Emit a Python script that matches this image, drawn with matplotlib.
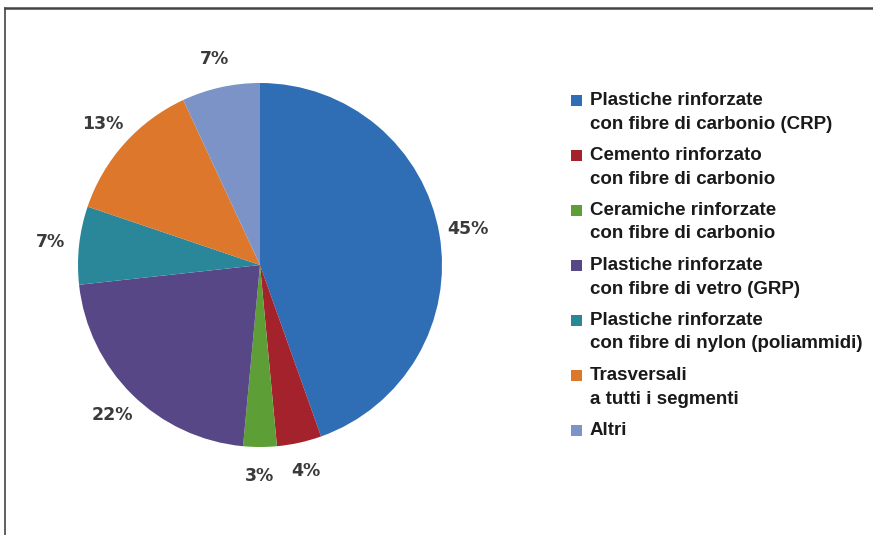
import matplotlib
matplotlib.use("Agg")
import matplotlib.pyplot as plt
from matplotlib.patches import Rectangle
from matplotlib.lines import Line2D

# dati
categorie = [
    "Plastiche rinforzate\ncon fibre di carbonio (CRP)",
    "Cemento rinforzato\ncon fibre di carbonio",
    "Ceramiche rinforzate\ncon fibre di carbonio",
    "Plastiche rinforzate\ncon fibre di vetro (GRP)",
    "Plastiche rinforzate\ncon fibre di nylon (poliammidi)",
    "Trasversali\na tutti i segmenti",
    "Altri",
]
valori = [45, 4, 3, 22, 7, 13, 7]
etichette = [f"{v}%" for v in valori]
colori = ["#2F6DB5", "#A3222C", "#5E9E36", "#574786", "#2A8799", "#DD772C", "#7B93C6"]

W, H = 873, 535
fig = plt.figure(figsize=(W / 100, H / 100), dpi=100)

# cornice (solo alto e sinistra)
fig.add_artist(Line2D([5 / W, 1], [1 - 8 / H, 1 - 8 / H], color="#444444", lw=1.8))
fig.add_artist(Line2D([5 / W, 5 / W], [0, 1 - 8 / H], color="#444444", lw=1.2))

# torta: centro (260, 265), raggio 182 px
cx, cy, r = 260, 265, 182
ax = fig.add_axes([(cx - r) / W, (H - cy - r) / H, 2 * r / W, 2 * r / H])
wedges, texts = ax.pie(valori, colors=colori, labels=etichette, startangle=90,
                       counterclock=False, labeldistance=1.16,
                       wedgeprops=dict(linewidth=0),
                       textprops=dict(fontsize=12.5, fontweight="bold", color="#3a3a3a"))
for t in texts:
    t.set_ha("center")
    t.set_va("center")
ax.set_xlim(-1, 1)
ax.set_ylim(-1, 1)
ax.set_aspect("equal")
ax.axis("off")

# legenda manuale
font_leg = ["Liberation Sans", "DejaVu Sans"]
x_sq, x_txt = 571, 590
y0, passo = 92, 55
for i, (lab, col) in enumerate(zip(categorie, colori)):
    y = y0 + i * passo
    fig.add_artist(Rectangle((x_sq / W, 1 - (y + 14) / H), 11 / W, 11 / H,
                             transform=fig.transFigure, color=col, lw=0))
    fig.text(x_txt / W, 1 - y / H, lab, ha="left", va="top", fontsize=13.5,
             fontweight="bold", color="#1a1a1a", family=font_leg, linespacing=1.5)

plt.savefig("out.png", dpi=100)
